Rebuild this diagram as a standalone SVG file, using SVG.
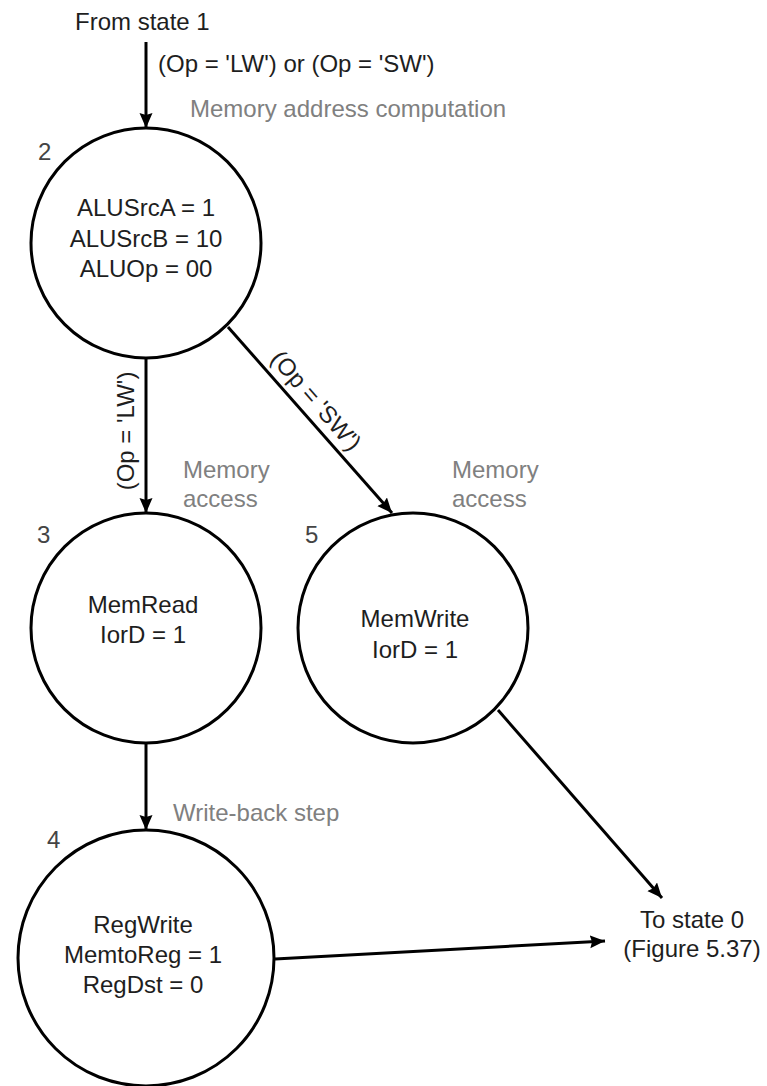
<svg xmlns="http://www.w3.org/2000/svg" width="767" height="1086" viewBox="0 0 767 1086">
  <style>
    text { font-family: "Liberation Sans", Arial, sans-serif; font-size: 24px; }
    .body { fill: #1e1e1e; }
    .note { fill: #808080; }
    .num { fill: #444444; }
    .mid { text-anchor: middle; }
    .state { fill: #ffffff; stroke: #000000; stroke-width: 3; }
    .edge { fill: none; stroke: #000000; stroke-width: 3; marker-end: url(#arrow); }
  </style>
  <defs>
    <marker id="arrow" markerUnits="userSpaceOnUse" markerWidth="16" markerHeight="14" refX="15" refY="6.5" orient="auto">
      <path d="M0,0 L15,6.5 L0,13 L2,6.5 Z" fill="#000000"/>
    </marker>
  </defs>

  <rect width="767" height="1086" fill="#ffffff"/>

  <!-- connectors -->
  <g id="connectors">
    <line class="edge" x1="146" y1="42" x2="146" y2="128"/>
    <line class="edge" x1="146" y1="358" x2="146" y2="513"/>
    <line class="edge" x1="228" y1="327" x2="392" y2="513"/>
    <line class="edge" x1="146" y1="743" x2="146" y2="830"/>
    <line class="edge" x1="498" y1="710" x2="662" y2="898"/>
    <line class="edge" x1="275" y1="959" x2="605" y2="941"/>
  </g>

  <!-- transition labels -->
  <g id="labels">
    <text class="body" x="75" y="30">From state 1</text>
    <text class="body" x="158" y="72">(Op = 'LW') or (Op = 'SW')</text>
    <text class="note" x="190" y="117">Memory address computation</text>
    <text class="body mid" transform="translate(134,431) rotate(-90)">(Op = 'LW')</text>
    <text class="body mid" transform="translate(310,406) rotate(49)">(Op = 'SW')</text>
    <text class="note" x="183" y="478">Memory</text>
    <text class="note" x="183" y="507">access</text>
    <text class="note" x="452" y="478">Memory</text>
    <text class="note" x="452" y="507">access</text>
    <text class="note" x="173" y="821">Write-back step</text>
    <text class="body mid" x="692" y="928">To state 0</text>
    <text class="body mid" x="692" y="957">(Figure 5.37)</text>
  </g>

  <!-- state 2: memory address computation -->
  <g id="state2">
    <circle class="state" cx="146" cy="243" r="115"/>
    <text class="num" x="38" y="160">2</text>
    <text class="body mid" x="146" y="216">ALUSrcA = 1</text>
    <text class="body mid" x="146" y="247">ALUSrcB = 10</text>
    <text class="body mid" x="146" y="277">ALUOp = 00</text>
  </g>

  <!-- state 3: memory read -->
  <g id="state3">
    <circle class="state" cx="146" cy="628" r="115"/>
    <text class="num" x="37" y="543">3</text>
    <text class="body mid" x="143" y="613">MemRead</text>
    <text class="body mid" x="143" y="643">IorD = 1</text>
  </g>

  <!-- state 5: memory write -->
  <g id="state5">
    <circle class="state" cx="413" cy="628" r="115"/>
    <text class="num" x="305" y="543">5</text>
    <text class="body mid" x="415" y="627">MemWrite</text>
    <text class="body mid" x="415" y="658">IorD = 1</text>
  </g>

  <!-- state 4: write-back -->
  <g id="state4">
    <circle class="state" cx="146" cy="958" r="128"/>
    <text class="num" x="47" y="848">4</text>
    <text class="body mid" x="143" y="933">RegWrite</text>
    <text class="body mid" x="143" y="963">MemtoReg = 1</text>
    <text class="body mid" x="143" y="993">RegDst = 0</text>
  </g>
</svg>
